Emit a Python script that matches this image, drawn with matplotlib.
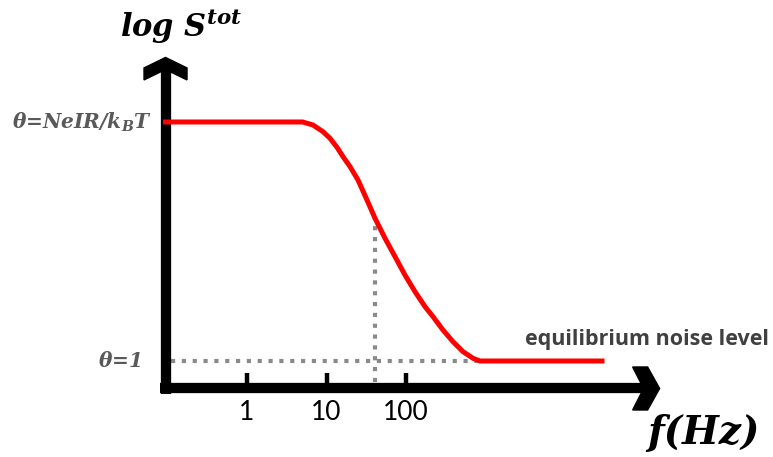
import matplotlib
matplotlib.use('Agg')
import matplotlib.pyplot as plt
from matplotlib.patches import Polygon

# curve: x = log10(f), y = log S (theta level = 3, theta=1 -> 0)
log_f = [-1.025, 0.54, 0.70, 0.83, 0.956, 1.044, 1.132, 1.208, 1.296, 1.396, 1.509,
         1.61, 1.736, 1.862, 1.987, 2.113, 2.239, 2.34, 2.465, 2.591, 2.717, 2.843,
         2.931, 4.465]
log_s = [3.0, 3.0, 3.0, 2.962, 2.878, 2.795, 2.682, 2.564, 2.439, 2.272, 2.021,
         1.791, 1.54, 1.309, 1.079, 0.87, 0.682, 0.556, 0.389, 0.242, 0.117, 0.034,
         0.0, 0.0]
tick_pos = [0, 1, 2]
tick_labels = ['1', '10', '100']
corner_f = 1.61       # frequency marked with dotted line
corner_s = 1.791
knee_f = 2.931        # where curve reaches equilibrium level

plt.rcParams['mathtext.fontset'] = 'custom'
plt.rcParams['mathtext.it'] = 'DejaVu Serif:italic:bold'
plt.rcParams['mathtext.rm'] = 'DejaVu Serif:italic:bold'

fig = plt.figure(figsize=(7.73, 4.57), dpi=100)
ax = fig.add_axes([0, 0, 1, 1])
ax.set_xlim(-3.107, 6.616)
ax.set_ylim(-1.205, 4.531)
ax.axis('off')

x0, y0 = -1.025, -0.345      # axis positions
sx, sy = 1 / 79.5, 1 / 79.67  # one pixel in data units

# axes stems
ax.plot([x0, x0], [y0 - 5.5 * sy, 3.65], color='black', lw=7.4, solid_capstyle='butt', zorder=3)
ax.plot([x0 - 5.5 * sx, 5.07], [y0, y0], color='black', lw=7.4, solid_capstyle='butt', zorder=3)

# arrow heads
tip_y = 3.81
vhead = [(x0, tip_y), (x0 + 21.5 * sx, tip_y - 10.5 * sy), (x0 + 21.5 * sx, tip_y - 22.5 * sy),
         (x0, tip_y - 12 * sy), (x0 - 21.5 * sx, tip_y - 22.5 * sy), (x0 - 21.5 * sx, tip_y - 10.5 * sy)]
ax.add_patch(Polygon(vhead, closed=True, color='black', zorder=3))
tip_x = 5.19
hhead = [(tip_x, y0), (tip_x - 12 * sx, y0 + 21.5 * sy), (tip_x - 27 * sx, y0 + 21.5 * sy),
         (tip_x - 16 * sx, y0), (tip_x - 27 * sx, y0 - 21.5 * sy), (tip_x - 12 * sx, y0 - 21.5 * sy)]
ax.add_patch(Polygon(hhead, closed=True, color='black', zorder=3))

# ticks
for t, lab in zip(tick_pos, tick_labels):
    ax.plot([t, t], [y0, -0.151], color='black', lw=3.2, solid_capstyle='butt', zorder=3)
    ax.text(t, -0.649, lab, ha='center', va='center', fontsize=19, family='Lato', color='black')

# dotted guide lines
dot = (0, (1, 1.6))
ax.plot([x0 + 5 * sx, knee_f], [0, 0], color='#8a8a8a', lw=3, linestyle=dot, zorder=2)
ax.plot([corner_f, corner_f], [y0 + 6 * sy, corner_s], color='#8a8a8a', lw=3, linestyle=dot, zorder=2)

# red curve
ax.plot(log_f, log_s, color='#ff0000', lw=3.6, solid_joinstyle='round', zorder=4)

# labels
ax.text(-1.60, 4.067, r'log S$^{tot}$', ha='left', va='baseline', fontsize=22,
        family='DejaVu Serif', weight='bold', style='italic', color='black')
ax.text(5.03, -0.904, 'f(Hz)', ha='left', va='center', fontsize=28,
        family='DejaVu Serif', weight='bold', style='italic', color='black')
ax.text(-1.195, 3.0, r'$\theta$=NeIR/k$_B$T', ha='right', va='center', fontsize=14.5,
        family='DejaVu Serif', weight='bold', style='italic', color='#595959')
ax.text(-1.333, 0.0, r'$\theta$=1', ha='right', va='center', fontsize=14.5,
        family='DejaVu Serif', weight='bold', style='italic', color='#595959')
ax.text(3.50, 0.264, 'equilibrium noise level', ha='left', va='center', fontsize=15.5,
        family='Open Sans', weight='bold', color='#404040')

fig.savefig('out.png', dpi=100)
